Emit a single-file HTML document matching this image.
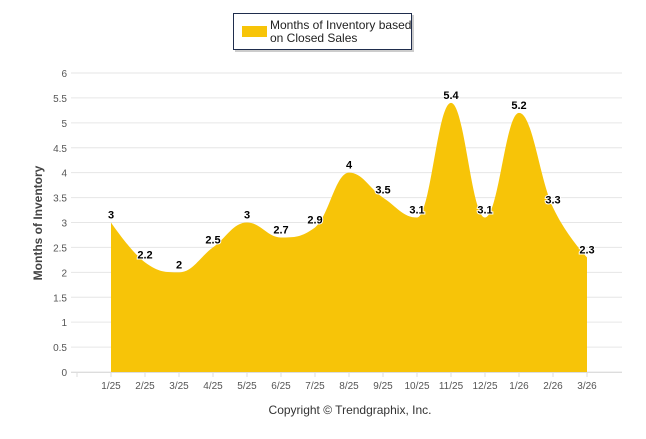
<!DOCTYPE html>
<html><head><meta charset="utf-8"><style>
body{margin:0;background:#fff;font-family:"Liberation Sans",sans-serif}
</style></head><body>
<svg id="c" width="646" height="434" font-family="Liberation Sans, sans-serif">
<g>
<rect x="235" y="15" width="179" height="37" fill="#999" opacity="0.5"/>
<rect x="233.5" y="13.5" width="178" height="36" fill="#fff" stroke="#1f2d4d" stroke-width="1"/>
<rect x="242" y="26" width="25" height="11" fill="#F7C408"/>
<text x="270" y="29" font-size="12" fill="#222">Months of Inventory based</text>
<text x="270" y="42" font-size="12" fill="#222">on Closed Sales</text>
</g>
<text transform="translate(42,223) rotate(-90)" text-anchor="middle" font-size="12" font-weight="bold" fill="#444">Months of Inventory</text>
<text x="350" y="414" text-anchor="middle" font-size="12" fill="#333">Copyright © Trendgraphix, Inc.</text>
<g id="grid"></g><g id="area"></g><g id="labels"></g>
</svg>
<script>
const categories=["1/25","2/25","3/25","4/25","5/25","6/25","7/25","8/25","9/25","10/25","11/25","12/25","1/26","2/26","3/26"];
const values=[3,2.2,2,2.5,3,2.7,2.9,4,3.5,3.1,5.4,3.1,5.2,3.3,2.3];
const yTicks=[0,0.5,1,1.5,2,2.5,3,3.5,4,4.5,5,5.5,6];
const NS="http://www.w3.org/2000/svg";
const y0=372,yTop=73,yMax=6,x0=111,dx=34;
const X=i=>x0+i*dx, Y=v=>y0-(v/yMax)*(y0-yTop);
function mk(t,a,p){const e=document.createElementNS(NS,t);for(const k in a)e.setAttribute(k,a[k]);p.appendChild(e);return e;}
const grid=document.getElementById('grid');
yTicks.forEach(v=>{
 const l=mk('line',{x1:71,x2:622,y1:Y(v),y2:Y(v),stroke:'#e6e6e6'},grid);
 
 
 const t=mk('text',{x:67,y:Y(v)+4,'text-anchor':'end','font-size':10,fill:'#555'},grid);t.textContent=v;
 
 
});
mk('line',{x1:71,x2:622,y1:y0+0.5,y2:y0+0.5,stroke:'#ddd'},grid);
for(let i=-1;i<categories.length;i++){mk('line',{x1:X(i)+0,x2:X(i),y1:y0,y2:y0+5,stroke:'#ddd'},grid);}
categories.forEach((c,i)=>{const t=mk('text',{x:X(i),y:y0+17,'text-anchor':'middle','font-size':10,fill:'#555'},grid);t.textContent=c;
 
 });
// Highcharts-like spline
const pts=values.map((v,i)=>[X(i),Y(v)]);
let d=`M${pts[0][0]},${y0} L${pts[0][0]},${pts[0][1]}`;
const sm=1.5,den=2.5;
const ctrl=[];
for(let i=0;i<pts.length;i++){
 const p=pts[i],a=pts[i-1],b=pts[i+1];
 if(!a||!b){ctrl.push([p,p]);continue;}
 let lx=(sm*p[0]+a[0])/den,ly=(sm*p[1]+a[1])/den,rx=(sm*p[0]+b[0])/den,ry=(sm*p[1]+b[1])/den;
 if(rx!==lx){const cor=((ry-ly)*(rx-p[0]))/(rx-lx)+p[1]-ry;ly+=cor;ry+=cor;}
 if(ly>a[1]&&ly>p[1]){ly=Math.max(a[1],p[1]);ry=2*p[1]-ly;}else if(ly<a[1]&&ly<p[1]){ly=Math.min(a[1],p[1]);ry=2*p[1]-ly;}
 if(ry>b[1]&&ry>p[1]){ry=Math.max(b[1],p[1]);ly=2*p[1]-ry;}else if(ry<b[1]&&ry<p[1]){ry=Math.min(b[1],p[1]);ly=2*p[1]-ry;}
 ctrl.push([[lx,ly],[rx,ry]]);
}
for(let i=1;i<pts.length;i++){const c1=ctrl[i-1][1],c2=ctrl[i][0];d+=` C${c1[0]},${c1[1]} ${c2[0]},${c2[1]} ${pts[i][0]},${pts[i][1]}`;}
d+=` L${pts[pts.length-1][0]},${y0} Z`;
const ar=mk('path',{d:d,fill:'#F7C408'},document.getElementById('area'));


const lab=document.getElementById('labels');
values.forEach((v,i)=>{const t=mk('text',{x:X(i),y:Y(v)-4,'text-anchor':'middle','font-size':11,'font-weight':'bold',fill:'#000',stroke:'#fff','stroke-width':2,'paint-order':'stroke'},lab);t.textContent=v;
 
 });
</script>
</body></html>
